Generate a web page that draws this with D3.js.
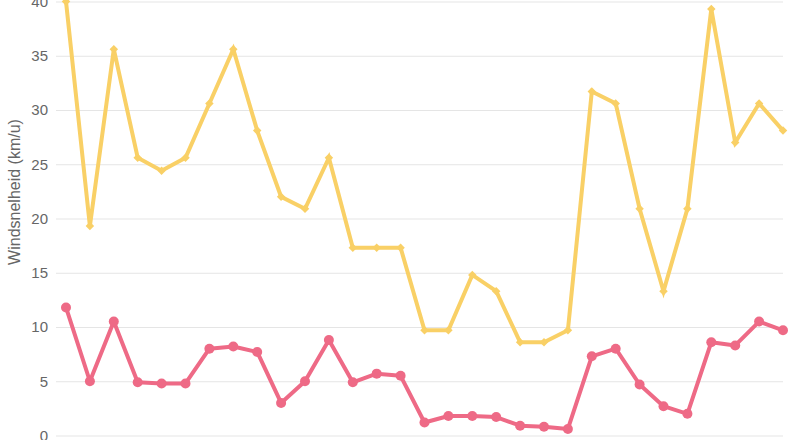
<!DOCTYPE html>
<html><head><meta charset="utf-8">
<script src="https://cdn.jsdelivr.net/npm/d3@7"></script>
<style>html,body{margin:0;padding:0;background:#fff;}svg{display:block;}</style>
</head><body>
<svg id="c" width="800" height="440"></svg>
<script>
const labels = d3.range(1, 32).map(String);
const gustValues = [40, 19.3, 35.6, 25.6, 24.4, 25.6, 30.6, 35.6, 28.1, 22.0, 20.9, 25.6, 17.3, 17.3, 17.3, 9.7, 9.7, 14.8, 13.3, 8.6, 8.6, 9.7, 31.7, 30.6, 20.9, 13.3, 20.9, 39.3, 27.0, 30.6, 28.1];
const windValues = [11.8, 5.0, 10.5, 4.9, 4.8, 4.8, 8.0, 8.2, 7.7, 3.0, 5.0, 8.8, 4.9, 5.7, 5.5, 1.2, 1.8, 1.8, 1.7, 0.9, 0.8, 0.6, 7.3, 8.0, 4.7, 2.7, 2.0, 8.6, 8.3, 10.5, 9.7];
const yTicks = [0, 5, 10, 15, 20, 25, 30, 35, 40];
const yTitle = "Windsnelheid (km/u)";

const svg = d3.select("#c");
const mLeft = 66, mRight = 783, mTop = 1.5, mBottom = 435.5;
const x = d3.scalePoint().domain(labels).range([mLeft, mRight]);
const y = d3.scaleLinear().domain([0, 40]).range([mBottom, mTop]);

const yAxis = d3.axisLeft(y).tickValues(yTicks).tickSize(mRight - mLeft + 10).tickPadding(8);
const g = svg.append("g").attr("transform", `translate(${mRight},0)`).call(yAxis);
g.select(".domain").remove();
g.selectAll(".tick line").attr("stroke", "#e5e5e5").attr("stroke-width", 1);
g.selectAll(".tick text").attr("fill", "#666").attr("font-family", "Liberation Sans, Arial, sans-serif").attr("font-size", 15);

svg.append("text")
  .attr("transform", "translate(20,192) rotate(-90)")
  .attr("text-anchor", "middle")
  .attr("fill", "#666")
  .attr("font-family", "Liberation Sans, Arial, sans-serif")
  .attr("font-size", 16)
  .text(yTitle);

const line = d3.line().x((d, i) => x(labels[i])).y(d => y(d));

const yellow = "#f9d066", pink = "#ee6a86";

svg.append("path").datum(gustValues).attr("d", line).attr("fill", "none")
  .attr("stroke", yellow).attr("stroke-width", 4).attr("stroke-linejoin", "miter");
svg.append("g").selectAll("path").data(gustValues).join("path")
  .attr("d", d3.symbol().type(d3.symbolSquare).size(36))
  .attr("transform", (d, i) => `translate(${x(labels[i])},${y(d)}) rotate(45)`)
  .attr("fill", yellow);

svg.append("path").datum(windValues).attr("d", line).attr("fill", "none")
  .attr("stroke", pink).attr("stroke-width", 4).attr("stroke-linejoin", "round");
svg.append("g").selectAll("circle").data(windValues).join("circle")
  .attr("cx", (d, i) => x(labels[i])).attr("cy", d => y(d)).attr("r", 5)
  .attr("fill", pink);
</script>
</body></html>
